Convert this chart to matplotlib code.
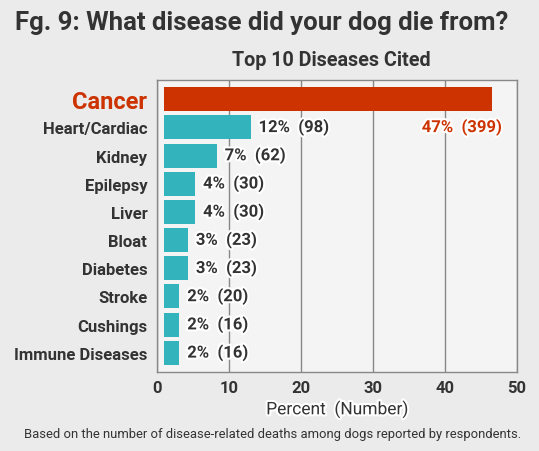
import matplotlib
matplotlib.use('Agg')
import matplotlib.pyplot as plt
import matplotlib.patheffects as pe

diseases = ['Cancer', 'Heart/Cardiac', 'Kidney', 'Epilepsy', 'Liver',
            'Bloat', 'Diabetes', 'Stroke', 'Cushings', 'Immune Diseases']
percent = [47, 12, 7, 4, 4, 3, 3, 2, 2, 2]
counts = [399, 98, 62, 30, 30, 23, 23, 20, 16, 16]
# bar lengths as drawn in the original (bars start at 1)
bar_len = [45.5, 12.0, 7.3, 4.3, 4.3, 3.3, 3.3, 2.1, 2.1, 2.1]
bar_start = 1.0

teal = '#33b3bb'
red = '#cc3300'
dark = '#333333'

plt.rcParams['font.family'] = ['Roboto', 'DejaVu Sans']

fig = plt.figure(figsize=(5.39, 4.52), dpi=100, facecolor='#ebebeb')
ax = fig.add_axes([157 / 539, 1 - 373 / 452, 360 / 539, 292 / 452])
ax.set_facecolor('#f4f4f4')

ypos = list(range(len(diseases)))
colors = [red] + [teal] * (len(diseases) - 1)
ax.barh(ypos, bar_len, left=bar_start, height=0.85, color=colors, zorder=3)

ax.set_xlim(0, 50)
ax.set_ylim(9.68, -0.68)
ax.set_xticks([0, 10, 20, 30, 40, 50])
ax.grid(axis='x', color='#888888', linewidth=1, zorder=0)
ax.grid(axis='y', visible=False)
for s in ax.spines.values():
    s.set_color('#888888')
    s.set_linewidth(1)
ax.tick_params(length=0)
ax.tick_params(axis='x', labelsize=12, pad=6, labelcolor=dark)
for lbl in ax.get_xticklabels():
    lbl.set_fontweight('bold')

ax.set_yticks(ypos)
ax.set_yticklabels(diseases)
for i, lbl in enumerate(ax.get_yticklabels()):
    lbl.set_fontweight('bold')
    if i == 0:
        lbl.set_color(red)
        lbl.set_fontsize(17)
    else:
        lbl.set_color(dark)
        lbl.set_fontsize(12)
ax.tick_params(axis='y', pad=7)

stroke = [pe.withStroke(linewidth=3, foreground='white')]
for i in range(1, len(diseases)):
    ax.text(bar_start + bar_len[i] + 1.1, i, f'{percent[i]}%  ({counts[i]})',
            va='center', ha='left', fontsize=12, fontweight='bold', color=dark,
            path_effects=stroke, zorder=4)
ax.text(47.9, 1, f'{percent[0]}%  ({counts[0]})', va='center', ha='right',
        fontsize=12, fontweight='bold', color=red, path_effects=stroke, zorder=4)

ax.set_xlabel('Percent  (Number)', fontsize=12.5, color=dark, labelpad=4,
              path_effects=stroke)

fig.text(261.5 / 539, 1 - 23 / 452, 'Fg. 9: What disease did your dog die from?',
         ha='center', va='center', fontsize=18.5, fontweight='bold', color=dark)
fig.text(331 / 539, 1 - 60 / 452, 'Top 10 Diseases Cited', ha='center',
         va='center', fontsize=14.2, fontweight='bold', color=dark)
fig.text(273 / 539, 1 - 435 / 452,
         'Based on the number of disease-related deaths among dogs reported by respondents.',
         ha='center', va='center', fontsize=9.4, color=dark)

fig.savefig('out.png', dpi=100, facecolor=fig.get_facecolor())
